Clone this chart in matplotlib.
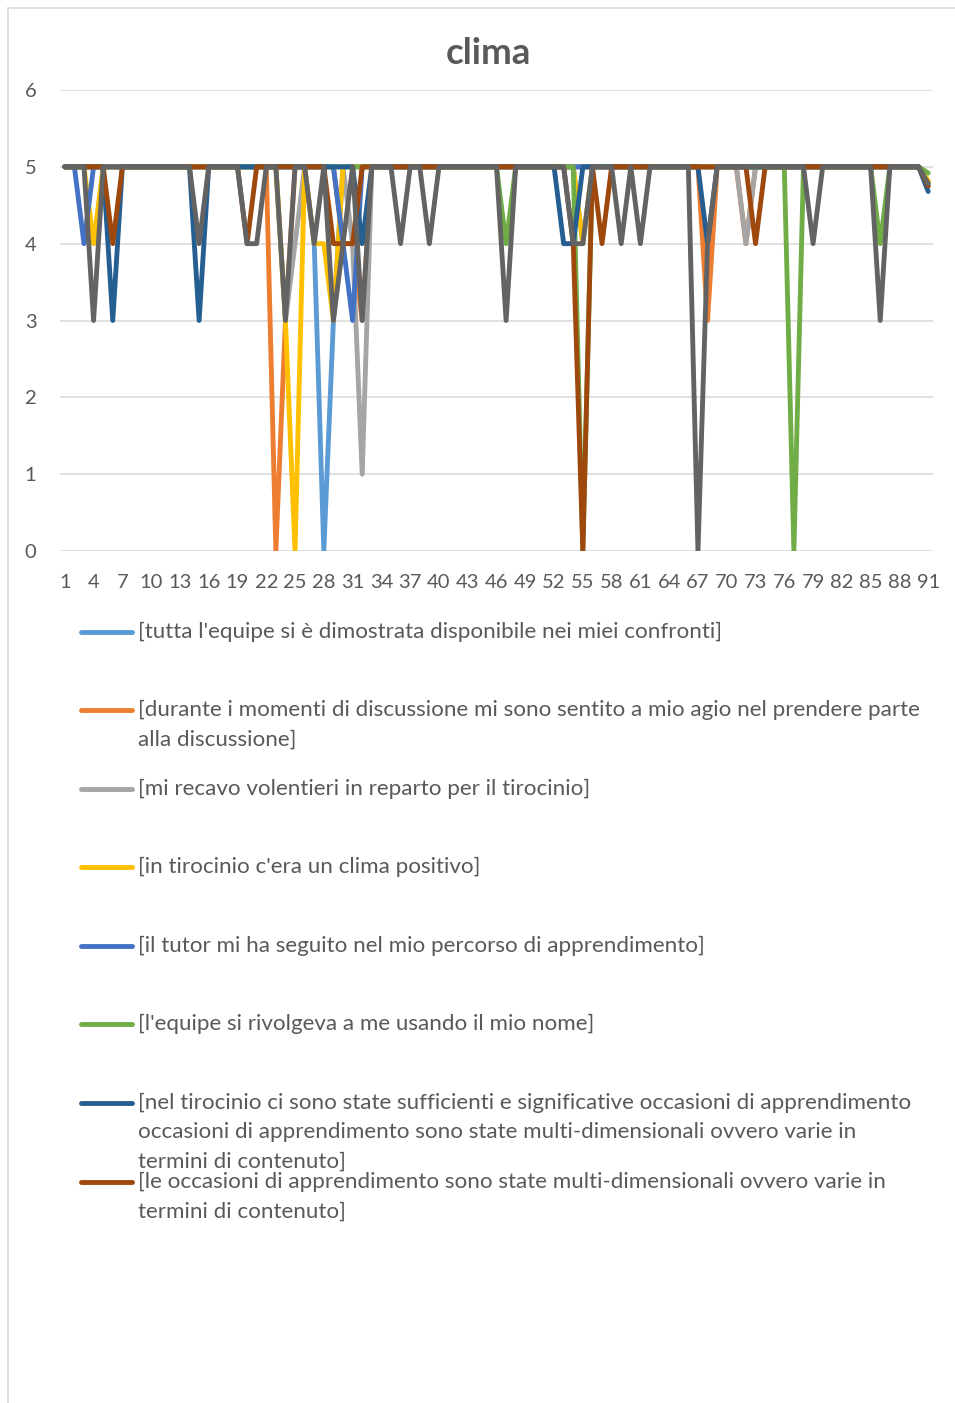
import matplotlib
matplotlib.use('Agg')
import matplotlib.pyplot as plt
from matplotlib.lines import Line2D
from matplotlib.patches import Rectangle

plt.rcParams['font.family'] = ['Lato', 'DejaVu Sans']

W, H = 955, 1403
TEXT = '#595959'

# data: responses 1..91 (91 = last row)
categories = list(range(1, 92))

tutta_equipe = [
    5, 5, 5, 5, 5, 5, 5, 5, 5, 5,
    5, 5, 5, 5, 5, 5, 5, 5, 5, 5,
    5, 5, 5, 5, 5, 5, 4, 0, 3, 5,
    5, 5, 5, 5, 5, 5, 5, 5, 5, 5,
    5, 5, 5, 5, 5, 5, 5, 5, 5, 5,
    5, 5, 5, 5, 4, 5, 5, 5, 5, 5,
    5, 5, 5, 5, 5, 5, 5, 5, 5, 5,
    5, 5, 5, 5, 5, 5, 5, 5, 5, 5,
    5, 5, 5, 5, 5, 5, 5, 5, 5, 5,
    4.8]
discussione = [
    5, 5, 5, 5, 5, 5, 5, 5, 5, 5,
    5, 5, 5, 5, 5, 5, 5, 5, 5, 5,
    5, 5, 0, 3, 5, 5, 5, 5, 5, 4,
    4, 3, 5, 5, 5, 5, 5, 5, 5, 5,
    5, 5, 5, 5, 5, 5, 5, 5, 5, 5,
    5, 5, 5, 5, 5, 5, 5, 5, 5, 5,
    5, 5, 5, 5, 5, 5, 5, 3, 5, 5,
    5, 4, 5, 5, 5, 5, 5, 5, 5, 5,
    5, 5, 5, 5, 5, 5, 5, 5, 5, 5,
    4.8]
volentieri = [
    5, 5, 5, 5, 5, 5, 5, 5, 5, 5,
    5, 5, 5, 5, 5, 5, 5, 5, 5, 5,
    5, 5, 5, 3, 4, 5, 5, 5, 5, 5,
    4, 1, 5, 5, 5, 5, 5, 5, 5, 5,
    5, 5, 5, 5, 5, 5, 5, 5, 5, 5,
    5, 5, 5, 5, 5, 5, 5, 5, 5, 5,
    5, 5, 5, 5, 5, 5, 5, 5, 5, 5,
    5, 4, 5, 5, 5, 5, 5, 5, 5, 5,
    5, 5, 5, 5, 5, 5, 5, 5, 5, 5,
    4.8]
clima_positivo = [
    5, 5, 5, 4, 5, 5, 5, 5, 5, 5,
    5, 5, 5, 5, 5, 5, 5, 5, 5, 5,
    5, 5, 5, 3, 0, 5, 4, 4, 3, 5,
    5, 5, 5, 5, 5, 5, 5, 5, 5, 5,
    5, 5, 5, 5, 5, 5, 5, 5, 5, 5,
    5, 5, 5, 5, 4, 5, 5, 5, 5, 5,
    5, 5, 5, 5, 5, 5, 5, 5, 5, 5,
    5, 5, 5, 5, 5, 5, 5, 5, 5, 5,
    5, 5, 5, 5, 5, 5, 5, 5, 5, 5,
    4.82]
tutor = [
    5, 5, 4, 5, 5, 5, 5, 5, 5, 5,
    5, 5, 5, 5, 5, 5, 5, 5, 5, 5,
    5, 5, 5, 5, 5, 5, 5, 5, 5, 4,
    3, 5, 5, 5, 5, 5, 5, 5, 5, 5,
    5, 5, 5, 5, 5, 5, 5, 5, 5, 5,
    5, 5, 5, 5, 5, 5, 5, 5, 5, 5,
    5, 5, 5, 5, 5, 5, 5, 5, 5, 5,
    5, 5, 5, 5, 5, 5, 5, 5, 5, 5,
    5, 5, 5, 5, 5, 5, 5, 5, 5, 5,
    4.75]
nome = [
    5, 5, 5, 5, 5, 5, 5, 5, 5, 5,
    5, 5, 5, 5, 5, 5, 5, 5, 5, 5,
    5, 5, 5, 5, 5, 5, 5, 5, 5, 5,
    5, 5, 5, 5, 5, 5, 5, 5, 5, 5,
    5, 5, 5, 5, 5, 5, 4, 5, 5, 5,
    5, 5, 5, 5, 0, 5, 5, 5, 5, 5,
    5, 5, 5, 5, 5, 5, 5, 5, 5, 5,
    5, 5, 5, 5, 5, 5, 0, 5, 5, 5,
    5, 5, 5, 5, 5, 4, 5, 5, 5, 5,
    4.92]
occasioni = [
    5, 5, 5, 5, 5, 3, 5, 5, 5, 5,
    5, 5, 5, 5, 3, 5, 5, 5, 5, 5,
    5, 5, 5, 5, 5, 5, 5, 5, 5, 5,
    5, 4, 5, 5, 5, 5, 5, 5, 5, 5,
    5, 5, 5, 5, 5, 5, 5, 5, 5, 5,
    5, 5, 4, 4, 5, 5, 5, 5, 5, 5,
    5, 5, 5, 5, 5, 5, 5, 4, 5, 5,
    5, 5, 5, 5, 5, 5, 5, 5, 5, 5,
    5, 5, 5, 5, 5, 5, 5, 5, 5, 5,
    4.68]
multidimensionali = [
    5, 5, 5, 5, 5, 4, 5, 5, 5, 5,
    5, 5, 5, 5, 5, 5, 5, 5, 5, 4,
    5, 5, 5, 5, 5, 5, 5, 5, 4, 4,
    4, 5, 5, 5, 5, 5, 5, 5, 5, 5,
    5, 5, 5, 5, 5, 5, 5, 5, 5, 5,
    5, 5, 5, 4, 0, 5, 4, 5, 5, 5,
    5, 5, 5, 5, 5, 5, 5, 5, 5, 5,
    5, 5, 4, 5, 5, 5, 5, 5, 5, 5,
    5, 5, 5, 5, 5, 5, 5, 5, 5, 5,
    4.75]
nona_serie = [
    5, 5, 5, 3, 5, 5, 5, 5, 5, 5,
    5, 5, 5, 5, 4, 5, 5, 5, 5, 4,
    4, 5, 5, 3, 5, 5, 4, 5, 3, 4,
    5, 3, 5, 5, 5, 4, 5, 5, 4, 5,
    5, 5, 5, 5, 5, 5, 3, 5, 5, 5,
    5, 5, 5, 4, 4, 5, 5, 5, 4, 5,
    4, 5, 5, 5, 5, 5, 0, 4, 5, 5,
    5, 5, 5, 5, 5, 5, 5, 5, 4, 5,
    5, 5, 5, 5, 5, 3, 5, 5, 5, 5,
    4.78]

series = [tutta_equipe, discussione, volentieri, clima_positivo, tutor,
          nome, occasioni, multidimensionali, nona_serie]
colors = ['#5B9BD5', '#ED7D31', '#A5A5A5', '#FFC000', '#4472C4',
          '#70AD47', '#255E91', '#9E480E', '#636363']
legend_labels = [
    "[tutta l'equipe si è dimostrata disponibile nei miei confronti]",
    "[durante i momenti di discussione mi sono sentito a mio agio nel prendere parte\nalla discussione]",
    "[mi recavo volentieri in reparto per il tirocinio]",
    "[in tirocinio c'era un clima positivo]",
    "[il tutor mi ha seguito nel mio percorso di apprendimento]",
    "[l'equipe si rivolgeva a me usando il mio nome]",
    "[nel tirocinio ci sono state sufficienti e significative occasioni di apprendimento\n"
    "occasioni di apprendimento sono state multi-dimensionali ovvero varie in\n"
    "termini di contenuto]",
    "[le occasioni di apprendimento sono state multi-dimensionali ovvero varie in\ntermini di contenuto]",
]
yticks = [0, 1, 2, 3, 4, 5, 6]
xticks = categories[::3]

fig = plt.figure(figsize=(W / 100, H / 100), dpi=100)


def fx(px):
    return px / W


def fy(py):
    return 1 - py / H


# chart area border (right and bottom edges fall outside the picture)
fig.add_artist(Rectangle((fx(8), fy(1420)), fx(960), 1412 / H,
                         transform=fig.transFigure, fill=False,
                         edgecolor='#D9D9D9', lw=1.2))

ax = fig.add_axes([fx(60), fy(551), fx(933) - fx(60), fy(90) - fy(551)])
for vals, c in zip(series, colors):
    ax.plot(categories, vals, color=c, lw=3.5,
            solid_joinstyle='round', solid_capstyle='round')

ax.set_xlim(0.5, 91.5)
ax.set_ylim(0, 6)
ax.set_yticks(yticks)
ax.set_xticks(xticks)
ax.grid(axis='y', color='#D9D9D9', lw=1.1)
ax.set_axisbelow(True)
for s in ax.spines.values():
    s.set_visible(False)
ax.tick_params(axis='both', length=0, labelsize=14.5, labelcolor=TEXT)
ax.tick_params(axis='y', pad=17)
ax.tick_params(axis='x', pad=16.5)

fig.text(fx(488), fy(54), 'clima', ha='center', va='center',
         fontsize=26.5, fontweight='bold', color=TEXT)

# legend, drawn by hand to keep Excel's spacing
legend_y = [632, 710, 789, 867, 946, 1024, 1103, 1182]
line_gap = 29.3
for lab, c, y0 in zip(legend_labels, colors, legend_y):
    fig.add_artist(Line2D([fx(81), fx(132)], [fy(y0), fy(y0)],
                          transform=fig.transFigure, color=c, lw=3.5,
                          solid_capstyle='round'))
    for k, part in enumerate(lab.split('\n')):
        fig.text(fx(138), fy(y0 + k * line_gap), part, ha='left', va='center',
                 fontsize=16.1, color=TEXT)

fig.savefig('out.png', dpi=100)
